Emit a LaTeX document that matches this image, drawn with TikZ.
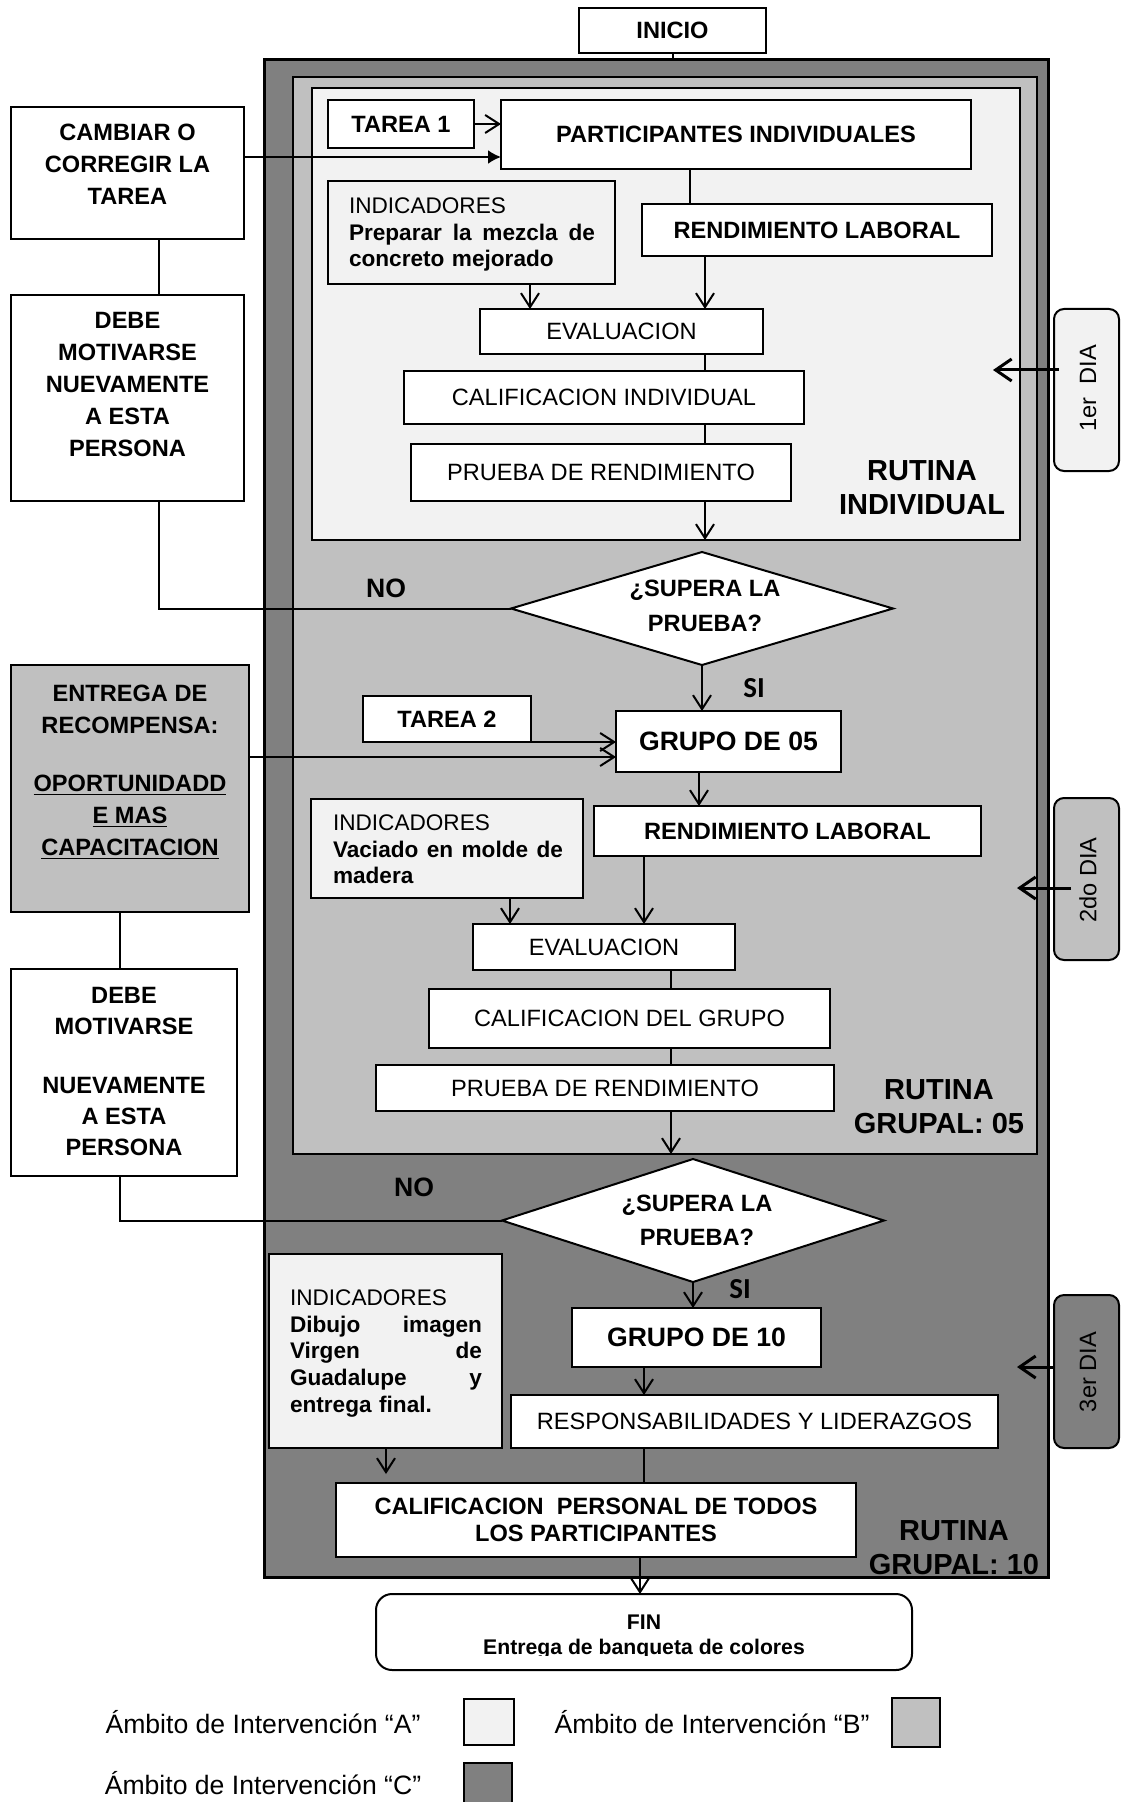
\documentclass[tikz,border=0pt]{standalone}
\usepackage{fontspec}
\setmainfont{Liberation Sans}
\newfontfamily\calfont{Carlito}
\usetikzlibrary{arrows.meta,shapes.geometric}

\definecolor{zoneA}{HTML}{F2F2F2}
\definecolor{zoneB}{HTML}{C0C0C0}
\definecolor{zoneC}{HTML}{808080}

\newcommand{\fsz}[2]{\fontsize{#1}{#2}\selectfont}
% rectangle node spanning two corner points: name, x1, y1, x2, y2, style, text
% (one coordinate unit is 0.5pt)
\newcommand{\panel}[7]{%
  \pgfmathsetmacro\panelw{(#4-#2)/2}%
  \pgfmathsetmacro\panelh{(#5-#3)/2}%
  \node[#6,minimum width=\panelw pt,minimum height=\panelh pt]
    (#1) at ({(#2+#4)/2},{(#3+#5)/2}) {#7};}

\begin{document}
\begin{tikzpicture}[x=0.5pt,y=-0.5pt,
  every node/.style={inner sep=0pt,outer sep=0pt},
  zone/.style={draw,line width=1pt},
  bx/.style={draw,line width=1pt,fill=white,align=center,font=\fsz{11.8}{16}},
  bxb/.style={bx,font=\fsz{11.8}{16}\bfseries},
  grp/.style={bx,font=\fsz{13.3}{16}\bfseries},
  txt/.style={align=center,font=\fsz{11.8}{16}\bfseries},
  yesno/.style={font=\fsz{13.3}{16}\bfseries},
  ind/.style={align=left,font=\fsz{11.3}{13.3}},
  rut/.style={align=center,font=\fsz{14.5}{17}\bfseries},
  daybox/.style={draw,line width=1pt,rounded corners=5pt},
  daytxt/.style={rotate=90,font=\fsz{11.8}{14}},
  decision/.style={diamond,draw,line width=1pt,fill=white,minimum width=191pt},
  legtxt/.style={font=\fsz{13.3}{16}},
  swatch/.style={draw,line width=0.6pt},
  conn/.style={line width=1pt},
  arr/.style={line width=1pt,-{Straight Barb[length=7pt,width=9pt]}},
  farr/.style={line width=1pt,-{Latex[length=6.5pt,width=7pt]}},
  dayarr/.style={line width=1.5pt,-{Straight Barb[length=8pt,width=11pt]}},
]
\useasboundingbox (0,0) rectangle (1124,1802);

% nested zones
\panel{zC}{264}{60}{1048}{1577}{zone,fill=zoneC,line width=1.5pt}{}
\panel{zB}{293}{77}{1037}{1154}{zone,fill=zoneB}{}
\panel{zA}{312}{88}{1020}{540}{zone,fill=zoneA}{}

% start
\panel{inicio}{579}{8}{766}{53}{bxb}{INICIO}
\draw[conn] (inicio.south) -- (inicio.south |- zC.north);

% ---------- individual routine ----------
\panel{tarea1}{328}{100}{474}{148}{bxb}{TAREA 1}
\panel{part}{501}{100}{971}{169}{bxb}{PARTICIPANTES INDIVIDUALES}
\panel{ind1}{328}{181}{615}{284}{bx,fill=zoneA}{}
\node[ind,text width=123pt,anchor=north west] (ind1t) at (349,198)
  {INDICADORES\\\textbf{Preparar\hfill la\hfill mezcla\hfill de}\\\textbf{concreto mejorado}};
\panel{rl1}{642}{204}{992}{256}{bxb}{RENDIMIENTO LABORAL}
\panel{ev1}{480}{309}{763}{354}{bx}{EVALUACION}
\panel{cal1}{404}{371}{804}{424}{bx}{CALIFICACION INDIVIDUAL}
\panel{pr1}{411}{444}{791}{501}{bx}{PRUEBA DE RENDIMIENTO}
\node[rut] (rut1) at (922,488) {RUTINA\\INDIVIDUAL};

\coordinate (xa) at (690,0);
\coordinate (xb) at (705,0);
\coordinate (xc) at (530,0);
\draw[conn] (part.south -| xa) -- (rl1.north -| xa);
\draw[arr] (rl1.south -| xb) -- (ev1.north -| xb);
\draw[arr] (ind1.south -| xc) -- (ev1.north -| xc);
\draw[conn] (ev1.south -| xb) -- (cal1.north -| xb);
\draw[conn] (cal1.south -| xb) -- (pr1.north -| xb);
\draw[arr] (pr1.south -| xb) -- (zA.south -| xb);
\draw[arr] (tarea1.east) -- (tarea1.east -| part.west);

% left column, first loop
\panel{camb}{11}{107}{244}{239}{bx}{}
\node[txt] (cambt) at (127.5,164) {CAMBIAR O\\CORREGIR LA\\TAREA};
\panel{deb1}{11}{295}{244}{501}{bx}{}
\node[txt] (deb1t) at (127.5,384) {DEBE\\MOTIVARSE\\NUEVAMENTE\\A ESTA\\PERSONA};
\coordinate (ya) at (0,157);
\coordinate (xd) at (159,0);
\draw[farr] (camb.east |- ya) -- (part.west |- ya);
\draw[conn] (camb.south -| xd) -- (deb1.north -| xd);

% first decision
\node[decision,minimum height=56.5pt] (q1) at (702,608.5) {};
\node[txt,font=\fsz{11.8}{17.5}\bfseries] (q1t) at (705,605.5) {¿SUPERA LA\\PRUEBA?};
\draw[conn] (deb1.south -| xd) |- (q1.west);
\node[yesno] (no1) at (386,588) {NO};
\node[font=\fsz{14.5}{16}\calfont\bfseries] (si1) at (754,688) {SI};

% ---------- group of five ----------
\panel{g5}{616}{711}{841}{772}{grp}{GRUPO DE 05}
\draw[arr] (q1.south) -- (q1.south |- g5.north);
\panel{tarea2}{363}{696}{531}{742}{bxb}{TAREA 2}
\draw[arr] (tarea2.south east) -- (tarea2.south east -| g5.west);
\panel{entr}{11}{665}{249}{912}{bx,fill=zoneB}{}
\node[txt] (entrt) at (130,772)
  {ENTREGA DE\\RECOMPENSA:\\[13pt]\underline{OPORTUNIDADD}\\\underline{E MAS}\\\underline{CAPACITACION}};
\coordinate (yb) at (0,757);
\draw[arr] (entr.east |- yb) -- (g5.west |- yb);

\panel{rl2}{594}{806}{981}{856}{bxb}{RENDIMIENTO LABORAL}
\panel{ind2}{311}{799}{583}{898}{bx,fill=zoneA}{}
\node[ind,text width=115pt,anchor=north west] (ind2t) at (333,815)
  {INDICADORES\\\textbf{Vaciado\hfill en\hfill molde\hfill de}\\\textbf{madera}};
\panel{ev2}{473}{924}{735}{970}{bx}{EVALUACION}
\panel{cal2}{429}{989}{830}{1048}{bx}{CALIFICACION DEL GRUPO}
\panel{pr2}{376}{1065}{834}{1111}{bx}{PRUEBA DE RENDIMIENTO}
\node[rut] (rut2) at (939,1107) {RUTINA\\GRUPAL: 05};

\coordinate (xe) at (699,0);
\coordinate (xf) at (644,0);
\coordinate (xg) at (510,0);
\coordinate (xh) at (671,0);
\draw[arr] (g5.south -| xe) -- (rl2.north -| xe);
\draw[arr] (rl2.south -| xf) -- (ev2.north -| xf);
\draw[arr] (ind2.south -| xg) -- (ev2.north -| xg);
\draw[conn] (ev2.south -| xh) -- (cal2.north -| xh);
\draw[conn] (cal2.south -| xh) -- (pr2.north -| xh);
\draw[arr] (pr2.south -| xh) -- (zB.south -| xh);

% left column, second loop
\panel{deb2}{11}{969}{237}{1176}{bx}{}
\node[txt,font=\fsz{11.8}{15.5}\bfseries] (deb2t) at (124,1071)
  {DEBE\\MOTIVARSE\\[14pt]NUEVAMENTE\\A ESTA\\PERSONA};
\coordinate (xi) at (120,0);
\draw[conn] (entr.south -| xi) -- (deb2.north -| xi);

% second decision
\node[decision,minimum height=61.5pt] (q2) at (693,1220.5) {};
\node[txt,font=\fsz{11.8}{17}\bfseries] (q2t) at (697,1220) {¿SUPERA LA\\PRUEBA?};
\draw[conn] (deb2.south -| xi) |- (q2.west);
\node[yesno] (no2) at (414,1187) {NO};
\node[font=\fsz{14.5}{16}\calfont\bfseries] (si2) at (740,1289) {SI};

% ---------- group of ten ----------
\panel{g10}{572}{1308}{821}{1367}{grp}{GRUPO DE 10}
\draw[arr] (q2.south) -- (q2.south |- g10.north);
\panel{ind3}{269}{1254}{502}{1448}{bx,fill=zoneA}{}
\node[ind,text width=96pt,anchor=north west] (ind3t) at (290,1290)
  {INDICADORES\\\textbf{Dibujo\hfill imagen}\\\textbf{Virgen\hfill de}\\\textbf{Guadalupe\hfill y}\\\textbf{entrega final.}};
\panel{resp}{511}{1395}{998}{1448}{bx}{RESPONSABILIDADES Y LIDERAZGOS}
\panel{calp}{336}{1483}{856}{1557}{bxb,font=\fsz{11.8}{13.5}\bfseries}{CALIFICACION\ \ PERSONAL DE TODOS\\LOS PARTICIPANTES}
\draw[arr] (g10.south -| xf) -- (resp.north -| xf);
\draw[conn] (resp.south -| xf) -- (calp.north -| xf);
\coordinate (xj) at (386,0);
\coordinate (ind3e) at (386,1474);
\draw[arr] (ind3.south -| xj) -- (ind3e);

\begin{scope}
  \clip (264,1480) rectangle (1048,1577);
  \node[rut] (rut3) at (954,1548) {RUTINA\\GRUPAL: 10};
\end{scope}
\draw[line width=1.5pt] (zC.south west) -- (zC.south east);

% end
\panel{fin}{376}{1594}{912}{1670}{bxb,rounded corners=8pt}{}
\begin{scope}
  \clip (376,1594) rectangle (912,1655);
  \node[txt,font=\fsz{10.6}{12.5}\bfseries,anchor=north] (fint) at (644,1614.5)
    {FIN\\Entrega de banqueta de colores};
\end{scope}
\coordinate (xk) at (640,0);
\draw[arr] (calp.south -| xk) -- (fin.north -| xk);

% day markers
\panel{dia1}{1054}{309}{1119}{471}{daybox,fill=zoneA}{}
\node[daytxt] (dia1t) at (1088,388) {1er\ \ DIA};
\coordinate (d1e) at (993,370);
\draw[dayarr,shorten <=-2.5pt] (dia1.west |- d1e) -- (d1e);

\panel{dia2}{1054}{798}{1119}{960}{daybox,fill=zoneB}{}
\node[daytxt] (dia2t) at (1088,880) {2do DIA};
\coordinate (d2e) at (1017,888);
\draw[dayarr,shorten <=-8.5pt] (dia2.west |- d2e) -- (d2e);

\panel{dia3}{1054}{1295}{1119}{1448}{daybox,fill=zoneC}{}
\node[daytxt] (dia3t) at (1088,1372) {3er DIA};
\coordinate (d3e) at (1017,1367);
\draw[dayarr] (dia3.west |- d3e) -- (d3e);

% legend
\node[legtxt,anchor=base] (legA) at (263,1733.5) {Ámbito de Intervención “A”};
\panel{swA}{464}{1699}{514}{1745}{swatch,fill=zoneA}{}
\node[legtxt,anchor=base] (legB) at (712,1733.5) {Ámbito de Intervención “B”};
\panel{swB}{892}{1698}{940}{1747}{swatch,fill=zoneB}{}
\node[legtxt,anchor=base] (legC) at (263,1794.5) {Ámbito de Intervención “C”};
\panel{swC}{464}{1763}{512}{1830}{swatch,fill=zoneC}{}
\end{tikzpicture}
\end{document}
